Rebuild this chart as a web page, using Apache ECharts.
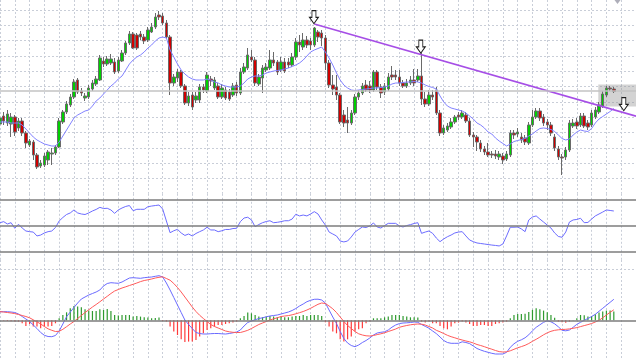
<!DOCTYPE html>
<html><head><meta charset="utf-8">
<script src="https://cdn.jsdelivr.net/npm/echarts@6/dist/echarts.min.js"></script>
<style>html,body{margin:0;padding:0;background:#fff}#c{width:636px;height:360px}</style>
</head><body><div id="c"></div>
<script>
// ---- data ----
const barSlots = 173; // 167 bars + empty right margin
const categories = Array.from({length: barSlots}, (_, i) => 'Bar ' + (i + 1));

const opens = [176,184,177,176,183,172,179,167,155,158, 145,134,135,140,146,147,153,178,188,195,
 203,220,209,202,203,211,216,220,239,236, 237,238,229,239,247,257,266,265,266,263,
 260,268,273,285,284,277,263,217,222,228, 214,197,205,200,200,213,209,221,212,214,
 203,210,208,205,215,207,228,232,243,240, 216,222,230,232,240,238,230,238,238,235,
 243,258,253,260,259,255,268,267,262,237, 215,213,205,185,180,177,187,203,207,215,
 214,210,228,213,208,211,225,225,223,217, 214,217,220,220,224,201,196,205,210,187,
 167,170,173,178,185,183,185,179,165,163, 157,151,148,146,146,143,144,141,145,167,
 166,163,162,157,175,183,189,183,178,175, 163,151,143,143,150,174,178,175,184,177,
 175,183,188,194,205,212,211];
const closes = [182,179,186,183,168,179,167,157,159,145, 133,137,144,148,147,153,179,188,196,203,
 218,208,207,204,212,217,221,242,236,241, 241,228,240,247,257,266,252,252,263,259,
 270,273,283,283,277,263,217,223,228,214, 197,204,193,204,213,210,225,219,220,203,
 212,202,201,214,207,228,233,245,240,217, 223,232,233,240,237,228,238,229,235,243,
 258,255,260,255,255,272,263,262,237,215, 211,205,178,177,177,187,203,207,214,210,
 210,228,213,207,214,223,223,223,217,214, 217,220,217,224,201,196,205,203,187,167,
 172,174,178,183,183,187,179,165,163,158, 151,148,145,145,144,146,140,146,167,165,
 168,160,158,175,183,189,182,177,175,167, 152,143,142,150,177,177,174,184,174,173,
 187,190,195,206,212,211,208.5];
const lows = [173,175,174,163,164,169,164,152,153,140, 131,132,133,135,135,145,152,176,186,193,
 201,206,204,199,201,209,214,219,233,234, 235,226,227,238,245,255,251,250,260,256,
 258,267,271,280,275,261,205,214,218,212, 195,194,190,197,197,207,207,214,210,201,
 201,200,199,203,204,205,226,230,238,214, 214,207,228,230,234,225,228,227,232,233,
 240,248,250,252,250,253,258,254,230,212, 205,200,176,173,167,175,185,200,205,208,
 207,208,210,202,205,209,220,220,214,212, 212,215,214,218,195,193,194,200,185,164,
 165,168,171,176,180,181,177,163,153,149, 148,145,143,142,141,140,136,139,143,161,
 163,157,155,155,173,181,179,174,170,164, 149,140,125,140,148,172,171,173,172,170,
 173,181,186,192,203,209,207];
const highs = [188,188,190,187,185,182,182,169,161,160, 147,140,147,150,152,155,182,190,199,206,
 221,222,212,207,215,220,224,245,243,244, 246,242,243,250,259,269,268,267,269,266,
 273,277,287,289,287,280,265,226,231,230, 216,208,208,208,216,216,228,224,223,217,
 216,213,211,217,218,232,237,252,250,243, 226,235,237,250,248,240,243,242,242,247,
 262,265,267,264,262,273,270,270,265,240, 225,225,207,190,193,190,206,210,217,220,
 219,230,230,216,217,227,234,230,230,220, 221,224,231,231,247,208,210,210,213,190,
 175,177,182,185,188,190,188,182,168,165, 160,154,157,149,150,149,147,149,170,170,
 172,167,165,178,190,192,192,186,181,178, 166,154,146,153,180,181,182,187,187,180,
 190,193,198,209,214,214,213];
const movingAvg = [178,178,178,177,177,177,175,171,167,163, 160,158,156,155,154,154,158,164,170,176,
 182,185,187,189,190,194,199,202,206,210, 214,217,221,224,230,236,240,243,245,248,
 252,255,259,262,263,262,250,243,236,230, 226,223,221,220,220,220,221,220,218,217,
 215,214,213,213,213,214,217,221,223,224, 224,225,227,228,229,229.5,230,231,232,233.5,
 235,237,240,244,248,250,251.5,253,248,242, 235,227,220,215,212,210,209.5,210,210.5,211,
 211.5,212,212,212.5,213,214,216,217,217,217.5, 218,218,218.5,218,217,215,213.5,212.5,211,204,
 198,194,192,191,190,189,187,184,181,177, 175,172,168,166,162,159,156.5,154,156,158.5,
 159.5,160.5,161.5,164,166,169,171.5,172,171.5,170.5, 168.5,165,161.5,160,161,165,168,170,169,168.5,
 171.5,177,181,183.5,186,188.5,191.5];
const rsiValues = [52.0,52.8,51.0,52.0,47.7,50.8,47.9,45.6,45.1,44.8, 41.8,42.5,44.1,45.1,45.6,48.3,53.3,56.0,58.3,59.5,
 61.8,59.5,58.7,58.3,59.5,61.0,62.2,63.8,62.9,63.1, 61.8,59.2,61.8,63.3,64.5,65.2,61.2,62.3,62.3,62.3,
 64.3,64.8,65.2,65.6,62.5,53.3,44.3,45.8,46.9,44.1, 42.2,43.3,41.8,43.7,45.1,46.4,48.5,46.4,46.4,45.1,
 45.8,46.8,46.8,47.5,47.7,52.8,55.6,56.2,54.1,48.9, 50.6,52.0,52.9,53.5,52.0,52.3,52.8,53.5,53.5,54.8,
 58.5,57.2,57.9,57.2,58.7,60.5,58.7,54.1,50.2,44.8, 43.3,41.8,37.9,37.2,37.9,41.0,44.8,46.8,48.7,48.3,
 49.5,51.8,48.7,47.9,49.8,51.5,51.5,51.5,49.5,48.7, 49.8,50.5,51.4,52.0,43.8,44.8,45.6,43.8,40.2,37.4,
 39.5,41.2,42.5,44.1,44.8,45.1,41.8,38.7,37.4,36.4, 36.0,35.6,35.2,34.8,34.5,34.1,35.6,41.8,48.5,48.5,
 48.7,47.2,45.1,54.1,56.4,57.2,54.8,52.5,50.2,47.9, 44.1,41.4,40.8,44.8,52.5,54.1,54.5,55.4,52.0,52.2,
 54.8,57.2,58.7,60.2,61.8,61.4,61.0];
const macdLine = [8.6,8.6,8.6,8.3,7.8,6.3,3.8,1.3,-1.2,-4.7, -8.2,-12.2,-15,-16.2,-16.4,-15.2,-10.7,-3.7,3.6,8.3,
 12.8,17.3,21.3,23.3,25.3,26.8,28.3,30.3,34.3,36.8, 37.6,37.3,37,38.3,40.3,42.3,42.6,42.3,42,42.6,
 43,43.3,44,44.6,43.3,37.3,30.3,22.8,15.3,7.8, 0.3,-4.2,-8.2,-12.2,-13.2,-13.7,-13.7,-13.4,-13.2,-13.2,
 -13.5,-13.7,-13.2,-12.5,-11.7,-9.7,-5.7,-2.2,-0.7,0.5, 1.8,2.5,3.5,4.3,4.8,5.3,6.3,7.3,8.3,9.8,
 11.8,14.3,16.3,18.6,20,21,21.1,20.3,17.3,10.3, 3.3,-3.2,-11.2,-18.2,-22.7,-25.2,-26.4,-24.7,-22.2,-20.2,
 -17.7,-14.7,-12.7,-12,-11.5,-9.7,-6.9,-4.7,-3.3,-2.7, -2.5,-2.2,-1.7,-2,-4.2,-6,-7.9,-10.7,-13.3,-16.7,
 -20.2,-22.2,-23,-23,-23,-21.5,-22.2,-23.3,-25.7,-28.2, -29.7,-31,-32,-33,-33.7,-33.7,-33.7,-32,-27,-23.5,
 -21,-19.5,-17.5,-14.5,-10.5,-7,-4.5,-2,-0.5,-1.5, -3.5,-6.5,-10,-10.5,-9.7,-7,-4,-2,0,1.8,
 3.8,6,9,12,15,18,21];
const signalLine = [8.6,8.3,7.8,7.3,6.7,5.8,4.8,3.8,2.5,0.5, -1.5,-3.7,-6.2,-8.5,-10,-11.2,-11,-9,-6.4,-3.7,
 -1.2,1.8,4.8,7.8,10.5,13.3,15.8,18.5,21.3,24, 26.8,29.3,30.8,32.3,33.5,34.8,36,37.3,38.7,39.8,
 40.5,41.3,42.3,43,43.5,41.8,40.1,36.8,32.8,28.3, 23.3,18.3,13.3,8.8,5,1.8,-1.2,-4.2,-6.2,-7.7,
 -9.2,-10.7,-11.5,-12,-12.2,-12.2,-11.2,-10,-8.2,-6.2, -4.2,-2.7,-1.2,0.3,1.5,2.5,3.8,4.3,4.7,5.5,
 6.5,7.6,8.8,10.3,12,14,16,17.3,16.8,14.3, 11.5,7.8,3.3,-1.2,-5.2,-8.2,-11.2,-13.5,-14.7,-15.5,
 -15.7,-15.2,-14.3,-13.5,-12.5,-11.2,-10,-8.7,-7,-6, -5.2,-4.5,-4,-3.7,-3.9,-4.7,-6.2,-7.7,-10,-11.5,
 -13.2,-15,-16.4,-17.5,-18.7,-19.7,-20.7,-21.5,-22.7,-24.2, -25.2,-26.4,-27.7,-28.9,-30.2,-31.3,-31.7,-31.5,-30.5,-29,
 -27.5,-26.3,-25,-23.2,-21,-19,-16.8,-14.5,-12.5,-11, -10,-9.5,-9.2,-9,-8.6,-8,-7.3,-6.3,-5.3,-4.3,
 -3.2,-1.7,0,2.5,5.3,8,10.5];
const macdHist = [0,-0.5,-0.7,-1,-1.3,-1.3,-3,-5.7,-3.7,-6.3, -6.3,-8,-6.3,-6.3,-5.7,-3,2,5.3,8,12,
 14.3,13.7,13,11,9.7,9.3,9.3,11,10.3,11.3, 9.3,5.3,4.7,5.3,5.3,5.3,3.7,4.3,3.7,3,
 2.7,2,2.3,2.7,-0.7,-1.3,-6.3,-11.3,-14.7,-19, -21.7,-21.3,-21.3,-19.7,-16.3,-13,-9.7,-8,-6.3,-4.7,
 -4.7,-3.7,-3,-2.3,-1.3,2,4.3,7.7,7,5.3, 3.7,3,3.7,4.3,3.7,3,3.7,3,3,3.7,
 4.3,4.3,5.3,4.3,5.3,5.3,5.3,4.3,-2,-6.3, -11.3,-13,-19,-21.3,-19,-16.3,-11.3,-9,-8,-3,
 -1.3,2,2,2,3,3.7,5.3,5.3,5.3,4.3, 3.7,3,3,2.7,-1.3,-2.3,-1.3,-3,-3,-5.7,
 -8,-9,-6.3,-3,-2.3,-1.3,-2.3,-3.7,-5.7,-5.7, -4.7,-4.7,-5.7,-5.7,-3.7,-3,-2.3,-1.3,2,5.3,
 6.3,6.3,6.5,8.3,10.5,12,11,9.7,8,5.3, 2.5,-1.3,-2,-2.5,-1.3,0.3,2,5.3,5,3.7,
 4.3,6,7.7,8.7,9.7,9.7,8.7];
const trendLine = [[85, 276], [172, 183.8]];          // [bar position, price]
const arrowMarks = [[84.9, 282.8], [113.8, 253.3], [168.7, 195.8]];
const highlightBox = [[161.8, 215.5], [172, 193.5]];
const priceLevel = 209.5;
const rsiLevels = [70, 50, 30];
const macdLevels = {zero: 0, upper: 51};

// ---- chart ----
const candles = opens.map((o, i) => [o, closes[i], lows[i], highs[i]]);
const gridLine = {color: '#c9ced8', type: [2, 2], width: 1};
function catAxis(g) {
  return {type: 'category', gridIndex: g, data: categories, boundaryGap: false,
    axisLine: {show: false}, axisTick: {show: false}, axisLabel: {show: false},
    splitLine: {show: true, interval: 3, lineStyle: gridLine}};
}
const hidden = {axisLine: {show: false}, axisTick: {show: false}, axisLabel: {show: false}, splitLine: {show: false}};

const chart = echarts.init(document.getElementById('c'), null, {renderer: 'canvas'});
chart.setOption({
  animation: false,
  backgroundColor: '#ffffff',
  grid: [
    {left: 0, right: 0, top: 0, height: 193.8},
    {left: 0, right: 0, top: 193.8, height: 66.2},
    {left: 0, right: 0, top: 260, height: 100}
  ],
  xAxis: [
    catAxis(0), catAxis(1), catAxis(2),
    Object.assign({type: 'value', gridIndex: 0, min: 0, max: barSlots - 1}, hidden)
  ],
  yAxis: [
    Object.assign({type: 'value', gridIndex: 0, min: 106.2, max: 300}, hidden),
    {type: 'value', gridIndex: 0, min: 0, max: 12.65, interval: 1,
      axisLine: {show: false}, axisTick: {show: false}, axisLabel: {show: false},
      splitLine: {show: true, showMinLine: false, showMaxLine: false, lineStyle: gridLine}},
    Object.assign({type: 'value', gridIndex: 1, min: 23.3, max: 74.23}, hidden),
    Object.assign({type: 'value', gridIndex: 2, min: -39.7, max: 60.3}, hidden)
  ],
  series: [
    {type: 'line', xAxisIndex: 3, yAxisIndex: 0, data: [], z: 1, silent: true,
      markArea: {silent: true, itemStyle: {color: 'rgba(150,150,150,0.42)'},
        data: [[{coord: highlightBox[0]}, {coord: highlightBox[1]}]]}},
    {type: 'candlestick', xAxisIndex: 0, yAxisIndex: 0, data: candles, barWidth: 3, z: 2,
      itemStyle: {color: '#00d000', color0: '#d00000', borderColor: '#6a6a6a', borderColor0: '#6a6a6a', borderWidth: 1},
      markLine: {silent: true, symbol: 'none', label: {show: false},
        lineStyle: {color: '#c3c3c3', width: 1.5, type: 'solid'}, data: [{yAxis: priceLevel}]}},
    {type: 'line', xAxisIndex: 0, yAxisIndex: 0, data: movingAvg, symbol: 'none', z: 3,
      lineStyle: {color: '#8282ff', width: 1}},
    {type: 'line', xAxisIndex: 3, yAxisIndex: 0, data: trendLine, symbol: 'none', z: 4,
      lineStyle: {color: '#a64ee6', width: 1.6}},
    {type: 'scatter', xAxisIndex: 3, yAxisIndex: 0, data: arrowMarks, z: 5,
      symbol: 'path://M2.8,0 L7.2,0 L7.2,6.6 L10,6.6 L5,13 L0,6.6 L2.8,6.6 Z',
      symbolSize: [9, 13], itemStyle: {color: '#ffffff', borderColor: '#1c1c1c', borderWidth: 1, opacity: 1}},
    {type: 'scatter', xAxisIndex: 3, yAxisIndex: 0, data: [[167, 298]], z: 5,
      symbol: 'triangle', symbolRotate: 180, symbolSize: [6, 4], itemStyle: {color: '#9a9aa8'}},
    {type: 'line', xAxisIndex: 1, yAxisIndex: 2, data: rsiValues, symbol: 'none',
      lineStyle: {color: '#6c6cff', width: 1},
      markLine: {silent: true, symbol: 'none', label: {show: false},
        lineStyle: {color: '#7c7c7c', width: 1.5, type: 'solid'},
        data: rsiLevels.map(v => ({yAxis: v}))}},
    {type: 'bar', xAxisIndex: 2, yAxisIndex: 3, data: macdHist, barWidth: 1.2,
      itemStyle: {color: p => p.value >= 0 ? '#2f9a2f' : '#ff3a3a'},
      markLine: {silent: true, symbol: 'none', label: {show: false},
        data: [
          {yAxis: macdLevels.zero, lineStyle: {color: '#7c7c7c', width: 1.5, type: 'solid'}},
          {yAxis: macdLevels.upper, lineStyle: gridLine}
        ]}},
    {type: 'line', xAxisIndex: 2, yAxisIndex: 3, data: macdLine, symbol: 'none', z: 3,
      lineStyle: {color: '#6a6aff', width: 1}},
    {type: 'line', xAxisIndex: 2, yAxisIndex: 3, data: signalLine, symbol: 'none', z: 3,
      lineStyle: {color: '#ff5a5a', width: 1}}
  ]
});
</script>
</body></html>
